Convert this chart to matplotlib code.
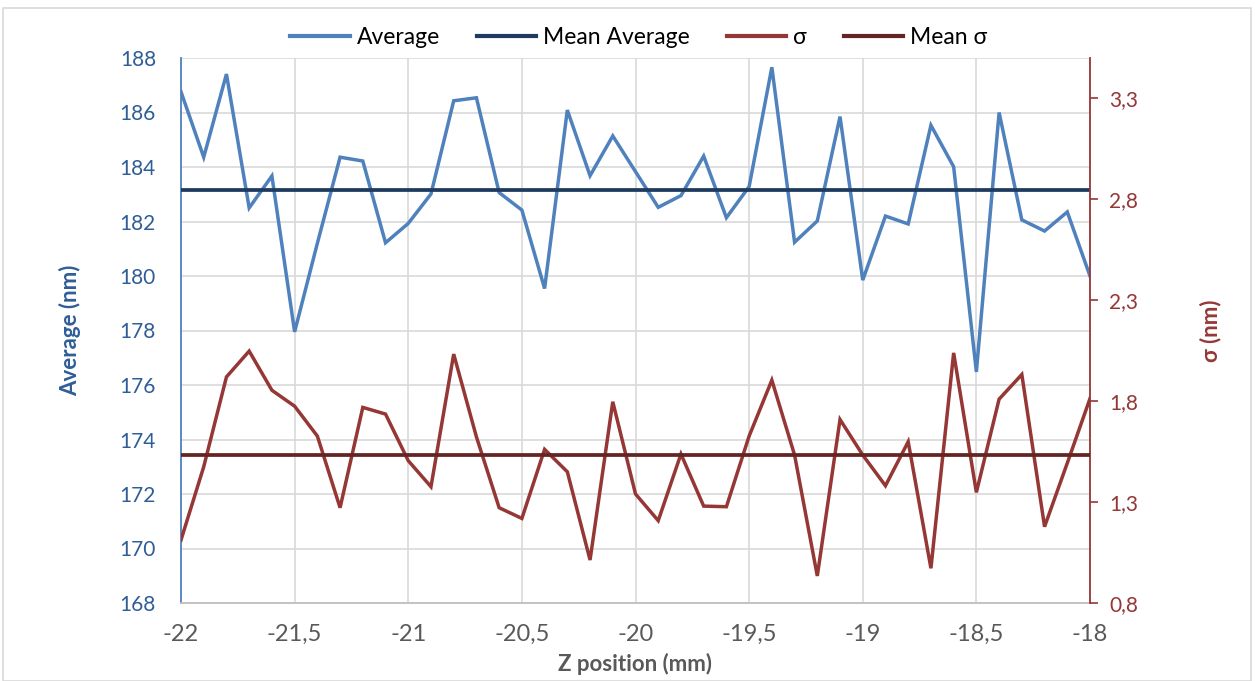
import numpy as np
import matplotlib
matplotlib.use("Agg")
import matplotlib.pyplot as plt
from matplotlib.ticker import FuncFormatter
from matplotlib.lines import Line2D
from matplotlib.patches import Rectangle

plt.rcParams['font.family'] = ['Lato', 'DejaVu Sans']

z_position = np.round(np.linspace(-22, -18, 41), 1)

average = [186.76, 184.36, 187.41, 182.50, 183.67, 177.95, 181.20, 184.36, 184.22, 181.22,
           181.93, 183.01, 186.43, 186.54, 183.06, 182.42, 179.54, 186.09, 183.68, 185.14,
           183.83, 182.52, 182.95, 184.40, 182.14, 183.28, 187.66, 181.24, 182.02, 185.85,
           179.85, 182.20, 181.91, 185.53, 184.01, 176.48, 186.00, 182.06, 181.65, 182.35,
           180.00]

sigma = [1.112, 1.475, 1.920, 2.048, 1.854, 1.775, 1.627, 1.272, 1.769, 1.736,
         1.505, 1.376, 2.033, 1.623, 1.272, 1.219, 1.561, 1.450, 1.013, 1.797,
         1.340, 1.208, 1.538, 1.280, 1.277, 1.627, 1.904, 1.533, 0.934, 1.709,
         1.533, 1.381, 1.599, 0.972, 2.039, 1.348, 1.810, 1.932, 1.178, 1.493,
         1.813]

mean_average = 183.14
mean_sigma = 1.531

series_labels = ["Average", "Mean Average", "σ", "Mean σ"]
x_ticks = [-22, -21.5, -21, -20.5, -20, -19.5, -19, -18.5, -18]
left_ticks = [168, 170, 172, 174, 176, 178, 180, 182, 184, 186, 188]
right_ticks = [0.8, 1.3, 1.8, 2.3, 2.8, 3.3]

c_avg = "#4F81BD"
c_mavg = "#1F3A5F"
c_sig = "#953735"
c_msig = "#632523"
c_left_txt = "#2F5D96"
c_gray = "#595959"
c_grid = "#D9D9D9"

fig = plt.figure(figsize=(12.55, 6.81), dpi=100)
ax = fig.add_axes([181/1255, 1-603/681, (1090-181)/1255, (603-58)/681])
ax2 = ax.twinx()

n = len(z_position)
ax.plot(z_position, average, color=c_avg, lw=2.5, solid_joinstyle='miter', zorder=3)
ax.plot(z_position, np.full(n, mean_average), color=c_mavg, lw=2.7, zorder=3)
ax2.plot(z_position, sigma, color=c_sig, lw=2.5, solid_joinstyle='miter', zorder=3)
ax2.plot(z_position, np.full(n, mean_sigma), color=c_msig, lw=2.7, zorder=3)

ax.set_xlim(-22, -18)
ax.set_ylim(168, 188)
ax2.set_ylim(0.8, 3.5)

ax.set_xticks(x_ticks)
ax.set_yticks(left_ticks)
ax2.set_yticks(right_ticks)

comma = FuncFormatter(lambda v, p: ('%g' % v).replace('.', ','))
ax.xaxis.set_major_formatter(comma)
ax2.yaxis.set_major_formatter(comma)

ax.grid(True, color=c_grid, lw=1.2)
ax.set_axisbelow(True)

for a in (ax, ax2):
    a.spines['top'].set_visible(False)
ax.spines['right'].set_visible(False)
ax2.spines['left'].set_visible(False)
ax2.spines['bottom'].set_visible(False)
ax.spines['left'].set_color(c_avg)
ax.spines['left'].set_linewidth(1.3)
ax.spines['bottom'].set_color("#BFBFBF")
ax.spines['bottom'].set_linewidth(1.3)
ax2.spines['right'].set_color(c_sig)
ax2.spines['right'].set_linewidth(1.3)

ax.tick_params(axis='y', length=0, labelsize=15, labelcolor=c_left_txt, pad=18)
ax.tick_params(axis='x', length=0, labelsize=17, labelcolor=c_gray, pad=15)
ax2.tick_params(axis='y', length=6, width=1.2, color=c_sig, labelsize=15,
                labelcolor=c_sig, pad=8, direction='out')

ax.set_ylabel("Average (nm)", fontsize=16, fontweight='bold', color=c_left_txt, labelpad=28)
ax2.set_ylabel("σ (nm)", fontsize=16, fontweight='bold', color=c_sig, labelpad=44, rotation=90)
ax.set_xlabel("Z position (mm)", fontsize=16, fontweight='bold', color=c_gray, labelpad=6)

handles = [Line2D([], [], color=c_avg, lw=3),
           Line2D([], [], color=c_mavg, lw=3),
           Line2D([], [], color=c_sig, lw=3),
           Line2D([], [], color=c_msig, lw=3)]
fig.legend(handles, series_labels, loc='center', bbox_to_anchor=(0.509, 1-38/681),
           ncol=4, frameon=False, fontsize=16.5, handlelength=2.6, handletextpad=0.3,
           columnspacing=1.6)

fig.patches.append(Rectangle((3/1255, 0), 1248/1255, 1-8/681, transform=fig.transFigure,
                             fill=False, edgecolor="#D9D9D9", lw=1.2))

fig.savefig("out.png", dpi=100)
